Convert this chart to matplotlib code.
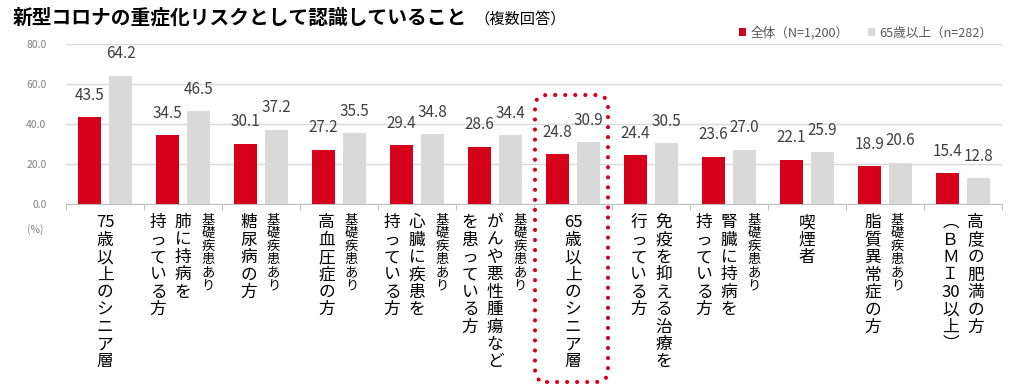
import matplotlib
matplotlib.use('Agg')
import matplotlib.pyplot as plt
from matplotlib.patches import FancyBboxPatch
from matplotlib.transforms import IdentityTransform
import numpy as np

plt.rcParams['font.family'] = ['Noto Sans CJK JP', 'DejaVu Sans']
plt.rcParams['axes.unicode_minus'] = False

# データ
categories = [
    '75歳以上のシニア層',
    '肺に持病を\n持っている方',
    '糖尿病の方',
    '高血圧症の方',
    '心臓に疾患を\n持っている方',
    'がんや悪性腫瘍など\nを患っている方',
    '65歳以上のシニア層',
    '免疫を抑える治療を\n行っている方',
    '腎臓に持病を\n持っている方',
    '喫煙者',
    '脂質異常症の方',
    '高度の肥満の方\n（ＢＭＩ30以上）',
]
has_base = [False, True, True, True, True, True, False, False, True, False, True, False]
all_vals = [43.5, 34.5, 30.1, 27.2, 29.4, 28.6, 24.8, 24.4, 23.6, 22.1, 18.9, 15.4]
senior_vals = [64.2, 46.5, 37.2, 35.5, 34.8, 34.4, 30.9, 30.5, 27.0, 25.9, 20.6, 12.8]
series_names = ['全体（N=1,200）', '65歳以上（n=282）']
base_label = '基礎疾患あり'
highlight = 6

RED = '#D7001B'
GRAY = '#D9D9D9'

fig = plt.figure(figsize=(10.24, 3.9), dpi=100)
ax = fig.add_axes([66/1024, 1-204/390, 936/1024, 160/390])

x = np.arange(len(categories)) + 0.5
b1 = ax.bar(x - 0.2, all_vals, width=0.295, color=RED, label=series_names[0], zorder=3)
b2 = ax.bar(x + 0.2, senior_vals, width=0.285, color=GRAY, label=series_names[1], zorder=3)

for xs, vals in [(x - 0.2, all_vals), (x + 0.2, senior_vals)]:
    for xi, v in zip(xs, vals):
        ax.annotate(f'{v:.1f}', xy=(xi, v), xytext=(0, 22), textcoords='offset pixels',
                    ha='center', va='center', fontsize=11, color='#404040')

ax.set_xlim(0, len(categories))
ax.set_ylim(0, 80)
ax.set_yticks([0, 20, 40, 60, 80])
ax.set_yticklabels([f'{t:.1f}' for t in [0, 20, 40, 60, 80]])
ax.tick_params(axis='y', length=0, pad=14, labelsize=7.5, labelcolor='#808080')
ax.set_xticks(np.arange(len(categories) + 1))
ax.set_xticklabels([])
ax.tick_params(axis='x', length=4, color='#BFBFBF', direction='out')
ax.grid(axis='y', color='#D9D9D9', linewidth=1, zorder=0)
for s in ['top', 'right', 'left']:
    ax.spines[s].set_visible(False)
ax.spines['bottom'].set_color('#BFBFBF')


def tokens(s):
    # 縦書き用に文字を分割（数字はまとめる）
    out = []
    for ch in s:
        if ch.isdigit() and ch.isascii() and out and out[-1].isdigit():
            out[-1] += ch
        else:
            out.append({'（': '︵', '）': '︶'}.get(ch, ch))
    return out


def vtext(xd, dx, s, size, step, top=9):
    for k, t in enumerate(tokens(s)):
        ax.annotate(t, xy=(xd, 0), xytext=(dx, -top - (k + 0.82) * step),
                    textcoords='offset pixels', ha='center', va='baseline',
                    fontsize=size, color='#000000', annotation_clip=False)


for i, (lab, base) in enumerate(zip(categories, has_base)):
    cols = lab.split('\n')
    n = len(cols) + (1 if base else 0)
    offs = [(j - (n - 1) / 2) * 25 for j in range(n)]  # 左から右
    offs = offs[::-1]  # 右の列から
    j = 0
    if base:
        vtext(x[i], offs[0], base_label, 9.5, 13.2)
        j = 1
    for c in cols:
        vtext(x[i], offs[j], c, 12, 17.4)
        j += 1

# 強調の点線枠
x0 = ax.transData.transform((highlight, 0))[0] + 1
x1 = ax.transData.transform((highlight + 1, 0))[0] - 4
box = FancyBboxPatch((x0, 390 - 382), x1 - x0, 382 - 95,
                     boxstyle='round,pad=0,rounding_size=12',
                     transform=IdentityTransform(), fill=False, edgecolor=RED,
                     linewidth=3, linestyle=(0, (0.01, 2.4)))
box.set_capstyle('round')
fig.add_artist(box)

fig.text(35/1024, 1-230/390, '(%)', ha='center', va='center', fontsize=7.5, color='#808080')

fig.text(13/1024, 1-18/390, '新型コロナの重症化リスクとして認識していること',
         ha='left', va='center', fontsize=14.2, fontweight='bold', color='#000000')
fig.text(474/1024, 1-19/390, '（複数回答）', ha='left', va='center', fontsize=11, color='#000000')

fig.legend(handles=[b1, b2], labels=series_names, loc='center left',
           bbox_to_anchor=(728/1024, 1-33/390), ncol=2, frameon=False,
           fontsize=9.1, handlelength=0.55, handleheight=0.55, handletextpad=0.3,
           columnspacing=1.6, labelcolor='#595959')

fig.savefig('out.png', dpi=100)
